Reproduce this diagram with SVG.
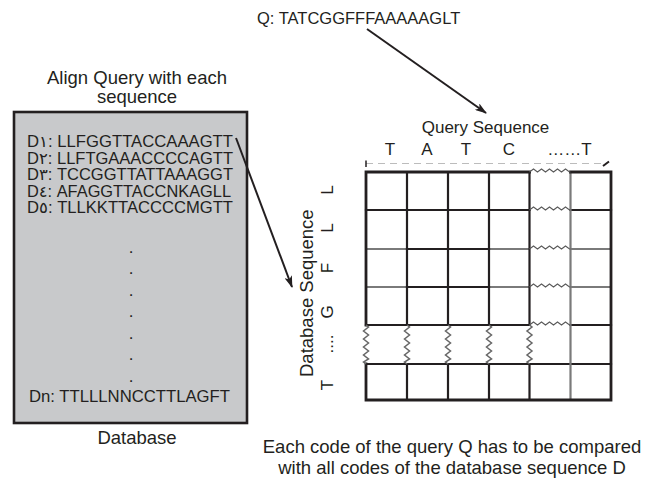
<svg xmlns="http://www.w3.org/2000/svg" width="662" height="484" viewBox="0 0 662 484">
<style>
text{font-family:"Liberation Sans",Arial,"DejaVu Sans",sans-serif;fill:#231f20}
.t18{font-size:18.5px}
.t17{font-size:17px}
.d{font-size:16px}
.mid{text-anchor:middle}
.g{stroke:#231f20;stroke-width:2.2;fill:none;stroke-linecap:square}
.gl{stroke:#7a7a7a;stroke-width:2.2;fill:none}
.o{stroke:#231f20;stroke-width:2.8;fill:none;stroke-linecap:square}
.w{stroke:#5a5a5a;stroke-width:1.1;fill:none}
.wv{stroke:#666;stroke-width:1.5;fill:none}
.c{stroke:#231f20;stroke-width:2;fill:none}
</style>
<defs>
<marker id="ah" viewBox="0 0 12 8" refX="11" refY="4" markerWidth="12" markerHeight="8" markerUnits="userSpaceOnUse" orient="auto">
<path d="M0,0 L12,4 L0,8 L3,4 z" fill="#231f20"/>
</marker>
<path id="hz" class="w" d="M0,0 l4,-3 l4,3 l4,-3 l4,3 l4,-3 l4,3 l4,-3 l4,3 l4,-3 l4,3 l1,0"/>
<path id="vz" class="wv" d="M0,0 l2.5,2 l-5,4 l5,4 l-5,4 l5,4 l-5,4 l5,4 l-5,4 l5,4 l-5,3 l2.5,2"/>
</defs>

<g id="query">
<text x="257" y="24" style="font-size:16.5px">Q: TATCGGFFFAAAAAGLT</text>
</g>

<g id="database">
<text class="t18 mid" x="137" y="84">Align Query with each</text>
<text class="t18 mid" x="137" y="103">sequence</text>
<rect x="14" y="112" width="233" height="311" fill="#c8c9cb" stroke="#231f20" stroke-width="2.6"/>
<text class="d" x="27" y="147" textLength="206" lengthAdjust="spacingAndGlyphs">D١: LLFGGTTACCAAAGTT</text>
<text class="d" x="27" y="163.5" textLength="206" lengthAdjust="spacingAndGlyphs">D٢: LLFTGAAACCCCAGTT</text>
<text class="d" x="27" y="180" textLength="206" lengthAdjust="spacingAndGlyphs">D٣: TCCGGTTATTAAAGGT</text>
<text class="d" x="27" y="196.5" textLength="204" lengthAdjust="spacingAndGlyphs">D٤: AFAGGTTACCNKAGLL</text>
<text class="d" x="27" y="213" textLength="206" lengthAdjust="spacingAndGlyphs">D٥: TLLKKTTACCCCMGTT</text>
<text class="t17 mid" x="131" y="253">.</text>
<text class="t17 mid" x="131" y="274">.</text>
<text class="t17 mid" x="131" y="295.5">.</text>
<text class="t17 mid" x="131" y="317">.</text>
<text class="t17 mid" x="131" y="338.5">.</text>
<text class="t17 mid" x="131" y="360">.</text>
<text class="t17 mid" x="131" y="381.5">.</text>
<text class="d" x="29" y="402" textLength="201" lengthAdjust="spacingAndGlyphs">Dn: TTLLLNNCCTTLAGFT</text>
<text class="t18 mid" x="137" y="444">Database</text>
</g>

<g id="matrix">
<text class="t17 mid" x="485.5" y="133">Query Sequence</text>
<text class="t17 mid" x="390" y="155">T</text>
<text class="t17 mid" x="427" y="155">A</text>
<text class="t17 mid" x="466" y="155">T</text>
<text class="t17 mid" x="509" y="155">C</text>
<text class="t17 mid" x="569.5" y="155">……T</text>
<line x1="366" y1="163.5" x2="604" y2="163.5" stroke="#bcbcbc" stroke-width="1.2" stroke-dasharray="7 5"/>
<line x1="366" y1="160.5" x2="366" y2="167" stroke="#231f20" stroke-width="1.5"/>
<path d="M603,166 L609,161.5" stroke="#231f20" stroke-width="2" fill="none"/>

<text class="t18" transform="translate(313,377) rotate(-90)">Database Sequence</text>
<text class="t17 mid" transform="translate(333,190) rotate(-90)">L</text>
<text class="t17 mid" transform="translate(333,228) rotate(-90)">L</text>
<text class="t17 mid" transform="translate(333,268) rotate(-90)">F</text>
<text class="t17 mid" transform="translate(333,312) rotate(-90)">G</text>
<text class="t17 mid" transform="translate(333,344) rotate(-90)">....</text>
<text class="t17 mid" transform="translate(333,385) rotate(-90)">T</text>

<path class="g" d="M366,210 H529.5 M570.5,210 H611"/>
<path class="gl" d="M366,249 H407 M489,249 H529.5 M570.5,249 H611"/>
<path class="g" d="M407,249 H489"/>
<path class="gl" d="M366,287 H407 M489,287 H529.5 M570.5,287 H611"/>
<path class="g" d="M407,287 H489"/>
<path class="g" d="M366,325 H529.5 M570.5,325 H611"/>
<path class="g" d="M366,364 H611"/>
<path class="g" d="M407,172 V325 M407,364 V400 M448,172 V325 M448,364 V400 M489,172 V325 M489,364 V400 M529.5,172 V325 M529.5,364 V400"/>
<path class="gl" d="M570.5,172 V400"/>
<path class="o" d="M366,325 V172 H529.5 M570.5,172 H611 V400 H366 V364"/>
<use href="#hz" x="529.5" y="172"/>
<use href="#hz" x="529.5" y="210"/>
<use href="#hz" x="529.5" y="249"/>
<use href="#hz" x="529.5" y="287"/>
<use href="#hz" x="529.5" y="325"/>
<use href="#vz" x="366" y="325"/>
<use href="#vz" x="407" y="325"/>
<use href="#vz" x="448" y="325"/>
<use href="#vz" x="489" y="325"/>
<use href="#vz" x="529.5" y="325"/>
</g>

<g id="caption">
<text class="t18 mid" x="452" y="453">Each code of the query Q has to be compared</text>
<text class="t18 mid" x="452" y="474">with all codes of the database sequence D</text>
</g>

<g id="connectors">
<line class="c" x1="367" y1="29" x2="486" y2="113" marker-end="url(#ah)"/>
<line class="c" x1="236" y1="138" x2="292" y2="287" stroke-width="1.8" marker-end="url(#ah)"/>
</g>
</svg>
